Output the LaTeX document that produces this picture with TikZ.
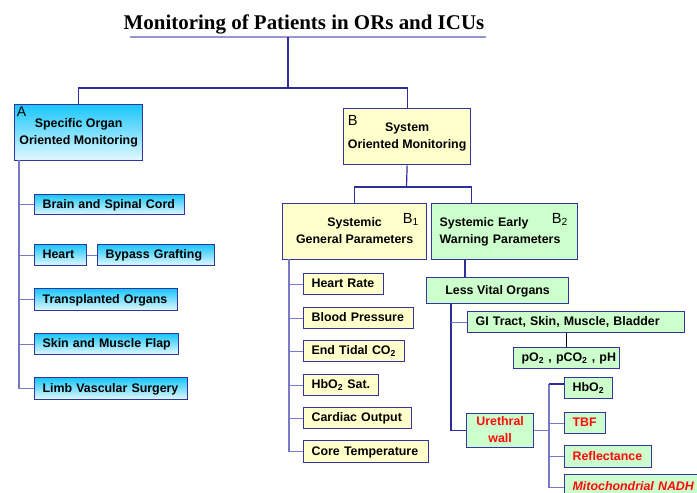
\documentclass[tikz,border=0pt]{standalone}
\usepackage{fontspec}
\setmainfont{Liberation Serif}
\setsansfont{Liberation Sans}
\definecolor{bord}{RGB}{52,52,160}
\definecolor{dkl}{RGB}{45,45,155}
\definecolor{ltl}{RGB}{120,120,200}
\definecolor{ulc}{RGB}{150,150,210}
\definecolor{cyt}{RGB}{25,198,250}
\definecolor{cyb}{RGB}{228,249,255}
\definecolor{yel}{RGB}{255,255,204}
\definecolor{grn}{RGB}{204,255,204}
\definecolor{myred}{RGB}{255,10,10}
\newcommand\boxfont{\sffamily\bfseries\fontsize{9.3}{12.75}\selectfont}
\newcommand\labfont{\sffamily\fontsize{11}{13}\selectfont}
\newcommand\bx[8]{\pgfmathsetmacro\mybw{#5*0.75}\pgfmathsetmacro\mybh{#6*0.75}\pgfmathsetmacro\mytw{#5*0.75-12}%
\node[#2, anchor=north west, minimum width=\mybw pt, minimum height=\mybh pt, text width=\mytw pt, alg #7] (#1) at (#3,#4) {\begin{tabular}{@{}#7@{}}#8\end{tabular}};}
\tikzset{
  alg l/.style={align=left},
  alg c/.style={align=center, text width={}, inner xsep=0pt},
  bxs/.style={draw=bord, line width=0.95pt, inner ysep=0pt, inner xsep=6pt, font=\boxfont, text=black},
  cyanb/.style={bxs, top color=cyt, bottom color=cyb},
  yelb/.style={bxs, fill=yel},
  grnb/.style={bxs, fill=grn},
  redt/.style={text=myred},
  dk/.style={draw=dkl, line width=0.9pt},
  lt/.style={draw=ltl, line width=0.9pt},
  lab/.style={inner sep=0pt, anchor=north west, font=\labfont}
}
\begin{document}
\begin{tikzpicture}[x=0.75pt,y=-0.75pt]
\useasboundingbox (0,0) rectangle (697,493);
\clip (0,0) rectangle (697,493);
% title
\node[font=\rmfamily\bfseries\fontsize{15.7}{18}\selectfont, anchor=base, inner sep=0pt] (title) at (304,29) {Monitoring of Patients in ORs and ICUs};
\coordinate (ulL) at (130,37);
\coordinate (ulR) at (486,37);
\draw[draw=ulc, line width=1.8pt] (ulL) -- (ulR);
\coordinate (ul) at (288,37);
\coordinate (tj) at (288,88);
% A branch
\bx{A}{cyanb}{14}{104}{128}{56}{c}{Specific Organ\\Oriented Monitoring}
\node[lab, font=\sffamily\fontsize{10.5}{12}\selectfont] (Alab) at (16.5,106.5) {A};
\bx{brain}{cyanb}{34}{194}{150}{20}{l}{Brain and Spinal Cord}
\bx{heart}{cyanb}{34}{244}{52}{21}{l}{Heart}
\bx{bypass}{cyanb}{97}{244}{117}{21}{l}{Bypass Grafting}
\bx{transp}{cyanb}{34}{288}{143}{22}{l}{Transplanted Organs}
\bx{skin}{cyanb}{34}{333}{144}{21}{l}{Skin and Muscle Flap}
\bx{limb}{cyanb}{34}{377}{153}{22}{l}{Limb Vascular Surgery}
% B branch
\bx{Bsys}{yelb}{343}{108}{127}{56}{c}{System\\Oriented Monitoring}
\node[lab] (Blab) at (347.5,115) {B};
\bx{B1}{yelb}{282}{203}{144}{56}{c}{Systemic\\General Parameters}
\node[lab] (B1lab) at (402.5,213) {B\textsubscript{1}};
\bx{B2}{grnb}{431}{203}{146}{56}{l}{Systemic Early\\Warning Parameters}
\node[lab] (B2lab) at (551.5,213) {B\textsubscript{2}};
% B1 children
\bx{hr}{yelb}{303}{273}{80}{21}{l}{Heart Rate}
\bx{bp}{yelb}{303}{307}{110}{21}{l}{Blood Pressure}
\bx{etc}{yelb}{303}{340}{101}{21}{l}{End Tidal CO\textsubscript{2}}
\bx{hbo}{yelb}{303}{374}{75}{21}{l}{HbO\textsubscript{2} Sat.}
\bx{cout}{yelb}{303}{407}{108}{21}{l}{Cardiac Output}
\bx{ct}{yelb}{303}{440}{125}{22}{l}{Core Temperature}
% B2 children
\bx{less}{grnb}{426}{277}{142}{26}{c}{Less Vital Organs}
\bx{gi}{grnb}{467}{311}{217}{21}{l}{GI Tract, Skin, Muscle, Bladder}
\bx{po}{grnb}{513}{347}{106}{21}{l}{pO\textsubscript{2} , pCO\textsubscript{2} , pH}
\bx{ure}{grnb, redt}{466}{413}{67}{34}{c}{Urethral\\wall}
\bx{hb2}{grnb}{564}{377}{48}{21}{l}{HbO\textsubscript{2}}
\bx{tbf}{grnb, redt}{564}{412}{41}{21}{l}{TBF}
\bx{refl}{grnb, redt}{564}{445}{87}{22}{l}{Reflectance}
\bx{mito}{grnb, redt}{564}{474}{140}{25}{l}{\itshape Mitochondrial NADH}
% connectors: top
\draw[dk] (ul) -- (tj);
\draw[dk] (A.north) |- (tj) -| (Bsys.north);
% A tree
\coordinate (av) at (19,160);
\draw[lt] (av) |- (limb.west);
\draw[lt] (brain.west) -- (brain.west -| av);
\draw[lt] (heart.west) -- (heart.west -| av);
\draw[lt] (transp.west) -- (transp.west -| av);
\draw[lt] (skin.west) -- (skin.west -| av);
\draw[lt] (heart.east) -- (bypass.west);
% B split
\coordinate (bj) at (406.5,187);
\draw[dk] (Bsys.south) -- (bj);
\draw[dk] (B1.north) |- (bj) -| (B2.north -| Bsys.east);
% B1 tree
\coordinate (b1v) at (289,259);
\draw[lt] (b1v) |- (ct.west);
\foreach \n in {hr,bp,etc,hbo,cout} \draw[lt] (\n.west) -- (\n.west -| b1v);
% B2 tree
\coordinate (lvt) at (465,277);
\draw[dk] (B2.south -| lvt) -- (lvt);
\coordinate (lvv) at (451,303);
\draw[dk] (lvv) |- (ure.west);
\draw[lt] (gi.west) -- (gi.west -| lvv);
\draw[draw=black, line width=0.8pt] (gi.south -| po.north) -- (po.north);
\coordinate (uv) at (549,384);
\draw[lt] (ure.east) -- (ure.east -| uv);
\draw[lt] (uv) |- (mito.west);
\draw[dk] (uv) -- (uv -| hb2.west);
\draw[lt] (tbf.west) -- (tbf.west -| uv);
\draw[lt] (refl.west) -- (refl.west -| uv);
\end{tikzpicture}
\end{document}
